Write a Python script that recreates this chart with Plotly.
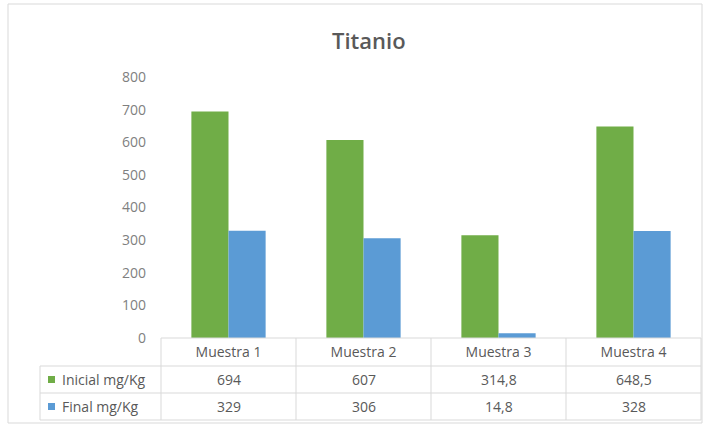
import plotly.graph_objects as go

# Data
muestras = ["Muestra 1", "Muestra 2", "Muestra 3", "Muestra 4"]
inicial = [694, 607, 314.8, 648.5]
final = [329, 306, 14.8, 328]
series_names = ["Inicial mg/Kg", "Final mg/Kg"]
y_ticks = [0, 100, 200, 300, 400, 500, 600, 700, 800]

GREEN = "#70AD47"
BLUE = "#5B9BD5"
GRID = "#D9D9D9"
TEXT = "#595959"
FONT = "Open Sans, sans-serif"

W, H = 710, 432
L, R, T, B = 161, 9, 77, 94
PW, PH = W - L - R, H - T - B


def fx(p):
    """Pixel x -> paper x (plot-area relative)."""
    return (p - L) / PW


def fy(p):
    """Pixel y -> paper y (plot-area relative)."""
    return (H - B - p) / PH


def fmt(v):
    s = f"{v:g}"
    return s.replace(".", ",")


fig = go.Figure()
fig.add_trace(go.Bar(x=muestras, y=inicial, name=series_names[0],
                     marker=dict(color=GREEN, line=dict(width=0))))
fig.add_trace(go.Bar(x=muestras, y=final, name=series_names[1],
                     marker=dict(color=BLUE, line=dict(width=0))))

shapes = []
ann = []

# Outer chart frame
shapes.append(dict(type="rect", xref="paper", yref="paper",
                   x0=fx(8), x1=fx(702), y0=fy(423), y1=fy(4),
                   line=dict(color=GRID, width=1), layer="below"))

# Data table grid
row_tops = [338, 366, 393, 420]
col_px = [L + i * PW / len(muestras) for i in range(len(muestras) + 1)]
label_left = 40
for i, yp in enumerate(row_tops):
    x0 = L if i == 0 else label_left
    shapes.append(dict(type="line", xref="paper", yref="paper",
                       x0=fx(x0), x1=fx(col_px[-1]), y0=fy(yp), y1=fy(yp),
                       line=dict(color=GRID, width=1)))
for xp in col_px:
    shapes.append(dict(type="line", xref="paper", yref="paper",
                       x0=fx(xp), x1=fx(xp), y0=fy(row_tops[0]), y1=fy(row_tops[-1]),
                       line=dict(color=GRID, width=1)))
shapes.append(dict(type="line", xref="paper", yref="paper",
                   x0=fx(label_left), x1=fx(label_left),
                   y0=fy(row_tops[1]), y1=fy(row_tops[-1]),
                   line=dict(color=GRID, width=1)))

# Table rows: legend key, series name, values
for r, (name, vals, col) in enumerate(zip(series_names, [inicial, final], [GREEN, BLUE])):
    yc = (row_tops[r + 1] + row_tops[r + 2]) / 2
    shapes.append(dict(type="rect", xref="paper", yref="paper",
                       x0=fx(48), x1=fx(55), y0=fy(yc + 3.5), y1=fy(yc - 3.5),
                       fillcolor=col, line=dict(width=0)))
    ann.append(dict(text=name, xref="paper", yref="paper", x=fx(60), y=fy(yc),
                    xanchor="left", yanchor="middle", showarrow=False,
                    font=dict(family=FONT, size=14, color=TEXT)))
    for m, v in zip(muestras, vals):
        ann.append(dict(text=fmt(v), xref="x", yref="paper", x=m, y=fy(yc),
                        xanchor="center", yanchor="middle", showarrow=False,
                        font=dict(family=FONT, size=14, color=TEXT)))

# Title
ann.append(dict(text="Titanio", xref="paper", yref="paper", x=fx(369), y=fy(40),
                xanchor="center", yanchor="middle", showarrow=False,
                font=dict(family=FONT, size=22, color=TEXT, weight=600)))

fig.update_layout(
    width=W, height=H,
    margin=dict(l=L, r=R, t=T, b=B, pad=0),
    paper_bgcolor="white", plot_bgcolor="white",
    showlegend=False,
    barmode="group", bargap=0.45, bargroupgap=0,
    shapes=shapes, annotations=ann,
    font=dict(family=FONT, color=TEXT),
)
fig.update_xaxes(showgrid=False, showline=False, ticks="", zeroline=False,
                 tickfont=dict(family=FONT, size=14, color=TEXT),
                 ticklabelstandoff=4)
fig.update_yaxes(range=[0, 800], tickvals=y_ticks, showgrid=False, showline=False,
                 zeroline=False, ticks="", ticklabelstandoff=14,
                 tickfont=dict(family=FONT, size=14, color="#7F7F7F"))

fig.write_html("out.html")
